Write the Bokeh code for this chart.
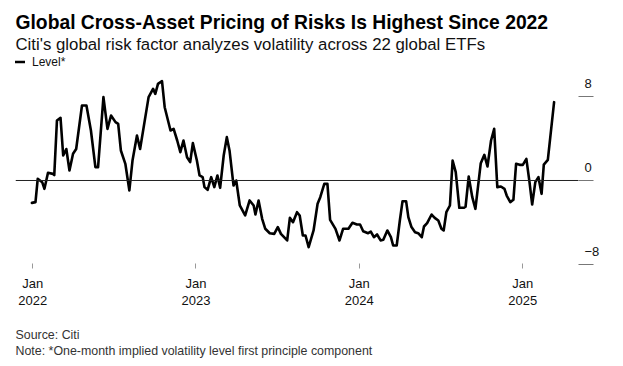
import pandas as pd
from bokeh.plotting import figure
from bokeh.models import (Range1d, LinearAxis, FixedTicker, Span, Title,
                          Legend, LegendItem)
from bokeh.embed import file_html
from bokeh.resources import INLINE

# ---------------- data ----------------
title_text = "Global Cross-Asset Pricing of Risks Is Highest Since 2022"
subtitle_text = "Citi's global risk factor analyzes volatility across 22 global ETFs"
legend_label = "Level*"
source_text = "Source: Citi"
note_text = "Note: *One-month implied volatility level first principle component"

dates = [
    "2021-12-30", "2022-01-07", "2022-01-12", "2022-01-22", "2022-01-27",
    "2022-02-04", "2022-02-15", "2022-02-18", "2022-02-24", "2022-03-04",
    "2022-03-10", "2022-03-17", "2022-03-24", "2022-04-01", "2022-04-08",
    "2022-04-21", "2022-05-01", "2022-05-11", "2022-05-21", "2022-05-27",
    "2022-06-08", "2022-06-17", "2022-06-25", "2022-07-05", "2022-07-11",
    "2022-07-17", "2022-07-27", "2022-08-05", "2022-08-12", "2022-08-22",
    "2022-08-29", "2022-09-17", "2022-09-27", "2022-10-02", "2022-10-08",
    "2022-10-17", "2022-10-23", "2022-11-05", "2022-11-12", "2022-11-20",
    "2022-11-27", "2022-12-04", "2022-12-12", "2022-12-19", "2022-12-25",
    "2023-01-03", "2023-01-09", "2023-01-16", "2023-01-20", "2023-01-27",
    "2023-02-04", "2023-02-11", "2023-02-18", "2023-02-24", "2023-03-04",
    "2023-03-11", "2023-03-17", "2023-03-26", "2023-04-01", "2023-04-09",
    "2023-04-21", "2023-05-01", "2023-05-10", "2023-05-14", "2023-05-21",
    "2023-05-29", "2023-06-05", "2023-06-15", "2023-06-25", "2023-07-03",
    "2023-07-10", "2023-07-24", "2023-07-30", "2023-08-06", "2023-08-15",
    "2023-08-21", "2023-08-28", "2023-09-03", "2023-09-10", "2023-09-21",
    "2023-09-30", "2023-10-06", "2023-10-15", "2023-10-22", "2023-10-28",
    "2023-11-09", "2023-11-18", "2023-11-26", "2023-12-08", "2023-12-17",
    "2023-12-27", "2024-01-03", "2024-01-10", "2024-01-21", "2024-01-27",
    "2024-02-03", "2024-02-10", "2024-02-18", "2024-02-24", "2024-03-04",
    "2024-03-12", "2024-03-17", "2024-03-25", "2024-04-01", "2024-04-07",
    "2024-04-15", "2024-04-20", "2024-04-27", "2024-05-05", "2024-05-12",
    "2024-05-20", "2024-05-25", "2024-06-01", "2024-06-11", "2024-06-18",
    "2024-06-26", "2024-07-03", "2024-07-08", "2024-07-14", "2024-07-22",
    "2024-07-28", "2024-08-04", "2024-08-12", "2024-08-22", "2024-08-26",
    "2024-09-02", "2024-09-10", "2024-09-17", "2024-09-29", "2024-10-07",
    "2024-10-14", "2024-10-22", "2024-10-29", "2024-11-05", "2024-11-13",
    "2024-11-21", "2024-11-26", "2024-12-04", "2024-12-11", "2024-12-17",
    "2024-12-25", "2025-01-01", "2025-01-09", "2025-01-16", "2025-01-22",
    "2025-01-29", "2025-02-05", "2025-02-12", "2025-02-17", "2025-02-26",
    "2025-03-12",
]
values = [
    -2.13, -2.06, 0.16, -0.16, -0.79,
    0.73, 0.63, 0.51, 5.71, 5.97,
    2.38, 3.00, 0.95, 2.54, 3.00,
    7.14, 7.14, 4.76, 1.27, 1.27,
    7.94, 4.92, 6.19, 5.56, 5.40,
    2.86, 1.59, -0.95, 1.90, 4.29,
    3.00, 7.94, 8.73, 8.25, 9.20,
    9.46, 6.98, 4.76, 4.92, 3.81,
    2.70, 3.81, 2.22, 1.75, 3.56,
    1.90, 0.48, 0.32, -0.63, -0.89,
    0.32, -0.63, 0.48, -0.70, 2.38,
    4.13, 2.86, -0.48, 0.00, -2.38,
    -3.33, -1.90, -2.38, -3.24, -1.90,
    -3.65, -4.60, -5.02, -5.08, -4.44,
    -5.08, -5.71, -3.56, -3.97, -3.02,
    -3.33, -5.24, -5.24, -6.35, -4.76,
    -2.22, -1.59, -0.32, -0.32, -3.75,
    -4.60, -5.71, -4.60, -4.60, -4.03,
    -4.19, -4.19, -4.83, -5.02, -4.86,
    -5.40, -5.14, -5.71, -5.65, -4.76,
    -5.40, -6.19, -6.19, -3.81, -1.97,
    -1.97, -3.49, -4.44, -4.92, -5.02,
    -5.40, -4.38, -4.06, -3.24, -3.56,
    -3.81, -4.60, -4.76, -3.02, -2.38,
    1.90, 0.79, -2.60, -2.60, -2.50,
    0.38, -1.59, -2.70, 1.65, 2.44,
    1.33, 3.81, 4.92, -0.63, -0.57,
    -0.79, -1.43, -2.06, -1.84, 1.59,
    1.49, 1.49, 2.06, -0.16, -2.29,
    -0.16, 0.32, -1.27, 1.52, 1.97,
    7.46,
]

x_tick_dates = ["2022-01-01", "2023-01-01", "2024-01-01", "2025-01-01"]
x_tick_labels = ["Jan\n2022", "Jan\n2023", "Jan\n2024", "Jan\n2025"]
y_ticks = [8, 0, -8]

# ---------------- layout constants ----------------
DAY = 86400000.0
def ms(d):
    return pd.Timestamp(d).value / 1e6

x_origin = ms("2022-01-01")
x_start = x_origin - 38.7 * DAY
x_end = x_origin + 1220.6 * DAY
y_start, y_end = -8.381, 12.0
label_shift = 1.2  # labels sit above their tick lines

FONT = "Liberation Sans"

p = figure(width=615, height=358, x_axis_type="datetime",
           y_axis_location=None, title_location=None,
           x_range=Range1d(x_start, x_end), y_range=Range1d(y_start, y_end),
           toolbar_location=None, output_backend="svg",
           min_border_left=15, min_border_right=37,
           min_border_top=54, min_border_bottom=90)
p.extra_y_ranges = {"lab": Range1d(y_start - label_shift, y_end - label_shift)}

p.outline_line_color = None
p.xgrid.visible = False
p.ygrid.visible = False
p.background_fill_color = "white"
p.border_fill_color = "white"

# zero line
p.add_layout(Span(location=0, dimension="width", line_color="#222222", line_width=1))

x_vals = [ms(d) for d in dates]
line = p.line(x=x_vals, y=values, line_color="black", line_width=2.6,
              line_join="round", line_cap="round")

# x axis
xa = p.xaxis[0]
xtick_ms = [ms(d) for d in x_tick_dates]
xa.ticker = FixedTicker(ticks=xtick_ms, minor_ticks=[])
xa.major_label_overrides = {t: lab for t, lab in zip(xtick_ms, x_tick_labels)}
xa.axis_line_color = None
xa.major_tick_in = 5
xa.major_tick_out = 0
xa.major_tick_line_color = "#999999"
xa.minor_tick_line_color = None
xa.major_label_standoff = 7
xa.major_label_text_font = FONT
xa.major_label_text_font_size = "13px"
xa.major_label_text_color = "#111111"
xa.major_label_text_line_height = 1.15
xa.axis_label = " "
xa.axis_label_standoff = 4
xa.axis_label_text_font_size = "8px"

# right y axis: labels above the tick marks
ya = LinearAxis(y_range_name="lab",
                ticker=FixedTicker(ticks=y_ticks,
                                   minor_ticks=[t - label_shift for t in y_ticks]))
ya.axis_line_color = None
ya.major_tick_line_color = None
ya.major_tick_in = 0
ya.major_tick_out = 0
ya.minor_tick_in = 0
ya.minor_tick_out = 15
ya.minor_tick_line_color = "#777777"
ya.major_label_standoff = -9
ya.major_label_text_font = FONT
ya.major_label_text_font_size = "13px"
ya.major_label_text_color = "#111111"
p.add_layout(ya, "right")

# legend inside the frame, top-left
legend = Legend(items=[LegendItem(label=legend_label, renderers=[line])],
                location="top_left", orientation="horizontal",
                padding=0, margin=0, border_line_color=None,
                background_fill_alpha=0, label_text_font=FONT,
                label_text_font_size="12px", label_text_color="#111111",
                glyph_width=10, glyph_height=15, label_standoff=7,
                label_height=15)
p.add_layout(legend)

p.add_layout(Title(text=subtitle_text, align="left", text_font=FONT,
                   text_font_size="16.8px", text_font_style="normal",
                   text_color="#111111", standoff=0, vertical_align="middle"),
             "above")
p.add_layout(Title(text=title_text, align="left", text_font=FONT,
                   text_font_size="19.3px", text_font_style="bold",
                   text_color="#000000", standoff=0, vertical_align="middle"),
             "above")

# footer
p.add_layout(Title(text=source_text, align="left", text_font=FONT,
                   text_font_size="12.4px", text_font_style="normal",
                   text_color="#333333", standoff=0, vertical_align="middle"),
             "below")
p.add_layout(Title(text=note_text, align="left", text_font=FONT,
                   text_font_size="12.4px", text_font_style="normal",
                   text_color="#333333", standoff=0, vertical_align="middle"),
             "below")

open("out.html", "w").write(file_html(p, INLINE))
